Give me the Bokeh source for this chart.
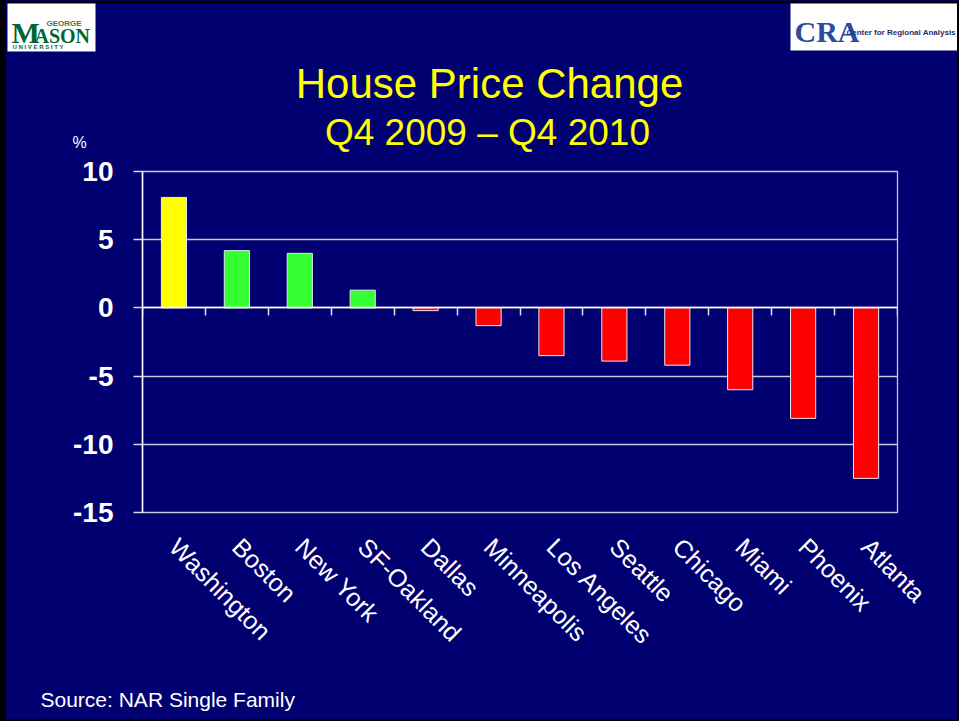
import math
from bokeh.plotting import figure
from bokeh.layouts import row, column
from bokeh.models import (Range1d, LinearAxis, FixedTicker, Label,
                          BoxAnnotation, ColumnDataSource, Spacer)
from bokeh.embed import file_html
from bokeh.resources import INLINE

# ---- data -------------------------------------------------------------
cities = ["Washington", "Boston", "New York", "SF-Oakland", "Dallas", "Minneapolis",
          "Los Angeles", "Seattle", "Chicago", "Miami", "Phoenix", "Atlanta"]
changes = [8.1, 4.2, 4.0, 1.3, -0.2, -1.3, -3.5, -3.9, -4.2, -6.0, -8.1, -12.5]
y_ticks = [-15, -10, -5, 0, 5, 10]
title_text = "House Price Change"
subtitle_text = "Q4 2009 \u2013 Q4 2010"
unit_text = "%"
source_text = "Source: NAR Single Family"

# ---- styles -------------------------------------------------------------
BG = "#000070"
FONT = "Liberation Sans"
GRID = "#c8c8dc"
top_color, up_color, down_color = "#FFFF00", "#33FF33", "#FF0000"
colors = [top_color if v == max(changes) else (up_color if v > 0 else down_color)
          for v in changes]

n = len(cities)
centers = [i + 0.5 for i in range(n)]          # category slots on a 0..n scale
bounds = list(range(n + 1))                    # slot boundaries

src = ColumnDataSource(dict(x=centers, city=cities, change=changes, color=colors))

# ---- page geometry (absolute pixels) ----------------------------------
PAGE_W, PAGE_H = 959, 721
LEFT_BAR, RIGHT_BAR = 6, 2
CW = PAGE_W - LEFT_BAR - RIGHT_BAR
HEAD_H = 154
FOOT_TOP = 680
FL_ABS, FR_ABS, FT_ABS, FB_ABS = 142, 897, 171, 512
BASE_SHIFT = 0.37  # label anchor sits this fraction of the font size above the baseline


def blank_fig(h, y0):
    f = figure(width=CW, height=h, x_range=Range1d(LEFT_BAR, LEFT_BAR + CW),
               y_range=Range1d(y0 + h, y0), x_axis_type=None, y_axis_type=None,
               output_backend="svg", toolbar_location=None,
               min_border=0, min_border_left=0, min_border_right=0,
               min_border_top=0, min_border_bottom=0,
               background_fill_color=BG, border_fill_color=BG, outline_line_color=None)
    return f


def lab(f, text, x, baseline, size, color="white", font=FONT, style="normal",
        align="left"):
    f.add_layout(Label(x=x, y=baseline - BASE_SHIFT * size, text=text, text_font=font,
                       text_font_size=f"{size}px", text_color=color,
                       text_font_style=style, text_align=align,
                       text_baseline="alphabetic"))


def box(f, l, r, t, b, color="white"):
    f.add_layout(BoxAnnotation(left=l, right=r, top=t, bottom=b, fill_color=color,
                               fill_alpha=1, line_color=None, level="underlay"))


# ---- header: logos, title, subtitle, unit --------------------------------
head = blank_fig(HEAD_H, 0)
box(head, LEFT_BAR, PAGE_W, 0, 3, color="black")
box(head, 7, 95, 3, 51)
lab(head, "M", 11, 43, 30, color="#006633", font="Liberation Serif", style="bold")
lab(head, "ASON", 34, 43, 20, color="#006633", font="Liberation Serif", style="bold")
lab(head, "GEORGE", 46, 26, 8, color="#5a6a3a", style="bold")
lab(head, "U N I V E R S I T Y", 12, 49, 6, color="#006633", style="bold")
box(head, 790, PAGE_W, 3, 50)
lab(head, "CRA", 794, 42, 30, color="#2b4b9b", font="Liberation Serif", style="bold")
lab(head, "Center for Regional Analysis", 846, 35, 8, color="#1c2e6e", style="bold")
lab(head, title_text, 489, 99, 42, color="#FFFF00", align="center")
lab(head, subtitle_text, 487, 146, 37, color="#FFFF00", align="center")
lab(head, unit_text, 72, 148, 16)

# ---- chart -------------------------------------------------------------
CH_H = FOOT_TOP - HEAD_H
p = figure(width=CW, height=CH_H, x_range=Range1d(0, n), y_range=Range1d(-15, 10),
           output_backend="svg", toolbar_location=None,
           min_border_left=FL_ABS - LEFT_BAR, min_border_right=LEFT_BAR + CW - FR_ABS,
           min_border_top=FT_ABS - HEAD_H, min_border_bottom=FOOT_TOP - FB_ABS,
           background_fill_color=BG, border_fill_color=BG)

p.vbar(x="x", top="change", bottom=0, width=0.4, fill_color="color",
       line_color="#e6e6f2", line_width=1, source=src)

# category axis (labels only)
xa = p.below[0]
xa.ticker = FixedTicker(ticks=centers)
xa.major_label_overrides = {c: name for c, name in zip(centers, cities)}
xa.axis_line_color = None
xa.major_tick_line_color = None
xa.minor_tick_line_color = None
xa.major_tick_out = 0
xa.major_tick_in = 0
xa.major_label_orientation = -math.pi / 4
xa.major_label_text_color = "white"
xa.major_label_text_font = FONT
xa.major_label_text_font_size = "25px"
xa.major_label_standoff = 30

# value axis
ya = p.left[0]
ya.ticker = FixedTicker(ticks=y_ticks)
ya.major_label_overrides = {t: str(t) for t in y_ticks}
ya.axis_line_color = "white"
ya.axis_line_width = 1.5
ya.major_tick_out = 9
ya.major_tick_in = 0
ya.major_tick_line_color = "#d8d8e8"
ya.major_tick_line_width = 1.5
ya.minor_tick_line_color = None
ya.major_label_text_color = "white"
ya.major_label_text_font = FONT
ya.major_label_text_font_style = "bold"
ya.major_label_text_font_size = "28px"
ya.major_label_standoff = 20

p.xgrid.visible = False
p.ygrid.ticker = FixedTicker(ticks=y_ticks)
p.ygrid.grid_line_color = GRID
p.ygrid.grid_line_width = 1.3
p.outline_line_color = GRID
p.outline_line_width = 1.3

# zero line with category-boundary ticks
zero_axis = LinearAxis(fixed_location=0, ticker=FixedTicker(ticks=bounds),
                       axis_line_color="white", axis_line_width=1.5,
                       major_tick_line_color="#e0e0ee", major_tick_line_width=1.5,
                       major_tick_out=8, major_tick_in=0,
                       minor_tick_line_color=None, major_label_text_color=None,
                       major_label_text_font_size="1px")
p.add_layout(zero_axis, "below")

# ---- footer: source --------------------------------------------------------
foot = blank_fig(PAGE_H - FOOT_TOP, FOOT_TOP)
lab(foot, source_text, 40, 707, 21)
box(foot, LEFT_BAR, PAGE_W, PAGE_H - 2, PAGE_H, color="black")

bg = {"background-color": BG}
left_bar = Spacer(width=LEFT_BAR, height=PAGE_H, styles={"background-color": "black"})
right_bar = Spacer(width=RIGHT_BAR, height=PAGE_H, styles={"background-color": "black"})
page = row(left_bar,
           column(row(head, spacing=0, styles=bg), row(p, spacing=0, styles=bg),
                  row(foot, spacing=0, styles=bg), spacing=0, styles=bg),
           right_bar, spacing=0, styles={"background-color": "black"})

open("out.html", "w").write(file_html(page, INLINE))
